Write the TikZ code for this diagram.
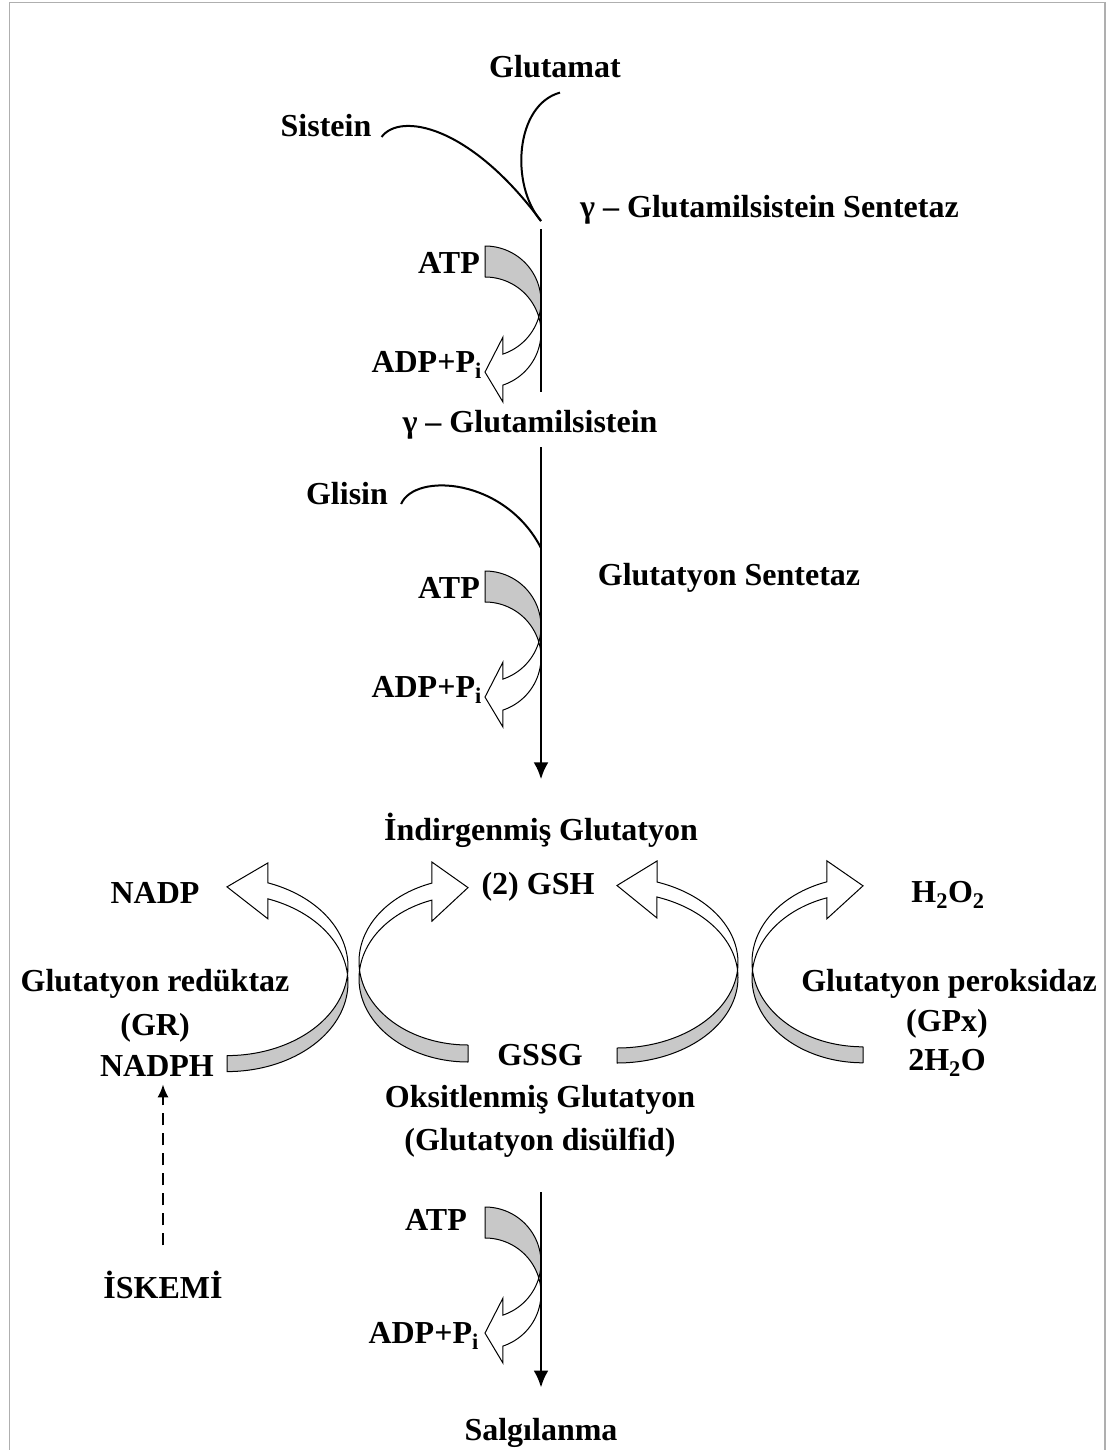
\documentclass[tikz,border=0pt]{standalone}
\usepackage{fontspec}
\setmainfont{Liberation Serif}
\usetikzlibrary{arrows.meta}
\tikzset{>=latex}
\definecolor{bandgray}{RGB}{200,200,200}
\definecolor{framegray}{RGB}{175,175,175}
\tikzstyle{lbl}=[font=\fontsize{32}{37}\selectfont\bfseries,inner sep=2pt,anchor=base]
\tikzstyle{mainline}=[line width=2.8pt]
\tikzstyle{thinline}=[line width=2pt]
\tikzstyle{backband}=[fill=bandgray,draw=black,line width=1pt,line join=round]
\tikzstyle{frontband}=[fill=white,draw=black,line width=1pt]
\tikzstyle{bigtip}=[-{Latex[length=17pt,width=15pt]}]
\tikzstyle{dasharrow}=[line width=2pt,dash pattern=on 12pt off 8pt,-{Latex[length=13pt,width=11pt]}]
% bent arrow: #1 x radius, #2 y radius, #3 band width, #4 end angle, #5 head overhang, #6 tip offset
\newcommand{\bentarrow}[6]{%
  \pgfmathsetmacro{\crossang}{asin(#3/(2*#2))}
  \filldraw[backband] plot[domain=-90:\crossang,samples=40] ({#1*cos(\x)},{#2*sin(\x)})
    -- plot[domain=-\crossang:-90,samples=40] ({#1*cos(\x)},{#3+#2*sin(\x)}) -- cycle;
  \filldraw[frontband] plot[domain=-\crossang:#4,samples=40] ({#1*cos(\x)},{#3+#2*sin(\x)})
    -- ++(0,#5) -- (0,{#2*sin(#4)+#3/2+#6})
    -- ({#1*cos(#4)},{#2*sin(#4)-#5})
    -- plot[domain=#4:\crossang,samples=40] ({#1*cos(\x)},{#2*sin(\x)}) -- cycle;
}

\begin{document}
\begin{tikzpicture}[x=1pt,y=-1pt]
    \useasboundingbox (0,0) rectangle (1107,1450);
    \draw[framegray,line width=1.5pt] (9.5,1450) -- (9.5,2.5) -- (1105,2.5) -- (1105,1450);

    % ATP -> ADP+Pi arrows
    \foreach \yy in {301.5,626.5,1262.5}{
      \begin{scope}[shift={(485,\yy)}]
        \bentarrow{56}{55.5}{31}{71.3}{17}{2.5}
      \end{scope}
    }
    % GSH / GSSG cycle
    \begin{scope}[shift={(227,982.6)},yscale=-1]
      \bentarrow{121}{89}{16}{70.2}{20}{4}
    \end{scope}
    \begin{scope}[shift={(468,978.7)},xscale=-1,yscale=-1]
      \bentarrow{109}{83.3}{17}{70.7}{21}{4}
    \end{scope}
    \begin{scope}[shift={(617,977.6)},yscale=-1]
      \bentarrow{121}{85.4}{15}{70.7}{21}{4}
    \end{scope}
    \begin{scope}[shift={(863,978)},xscale=-1,yscale=-1]
      \bentarrow{111}{84.8}{16}{71}{21}{4}
    \end{scope}

    \node[lbl] (glutamat) at (555,78) {Glutamat};
    \node[lbl] (sistein) at (326,137) {Sistein};
    \node[lbl,anchor=base west] (gcssent) at (578,218) {γ – Glutamilsistein Sentetaz};
    \node[lbl,anchor=base east] (atpa) at (482,273) {ATP};
    \node[lbl,anchor=base east] (adpa) at (484,372) {ADP+P\textsubscript{i}};
    \node[lbl] (gcs) at (530,432) {γ – Glutamilsistein};
    \node[lbl] (glisin) at (347,504) {Glisin};
    \node[lbl] (gssent) at (729,585) {Glutatyon Sentetaz};
    \node[lbl,anchor=base east] (atpb) at (482,598) {ATP};
    \node[lbl,anchor=base east] (adpb) at (484,697) {ADP+P\textsubscript{i}};
    \node[lbl] (indir) at (541,840) {İndirgenmiş Glutatyon};
    \node[lbl] (gsh) at (538,894) {(2) GSH};
    \node[lbl] (nadp) at (155,903) {NADP};
    \node[lbl] (hoo) at (948,902) {H\textsubscript{2}O\textsubscript{2}};
    \node[lbl] (gred) at (155,991) {Glutatyon redüktaz};
    \node[lbl] (gr) at (155,1035) {(GR)};
    \node[lbl] (nadph) at (157,1076) {NADPH};
    \node[lbl] (gssg) at (540,1065) {GSSG};
    \node[lbl] (oksit) at (540,1107) {Oksitlenmiş Glutatyon};
    \node[lbl] (disulf) at (540,1150) {(Glutatyon disülfid)};
    \node[lbl] (gpox) at (949,991) {Glutatyon peroksidaz};
    \node[lbl] (gpx) at (947,1031) {(GPx)};
    \node[lbl] (hho) at (947,1070) {2H\textsubscript{2}O};
    \node[lbl] (iskemi) at (163,1298) {İSKEMİ};
    \node[lbl,anchor=base east] (atpc) at (469,1230) {ATP};
    \node[lbl,anchor=base east] (adpc) at (481,1343) {ADP+P\textsubscript{i}};
    \node[lbl] (salg) at (541,1440) {Salgılanma};

    \coordinate (join1) at (541,221);
    \coordinate (join2) at (541,548);
    \draw[thinline] ([xshift=8pt]sistein.base east) .. controls (400,112) and (470,125) .. (join1);
    \draw[thinline] ([shift={(5,12)}]glutamat.south) .. controls (515,105) and (510,185) .. (join1);
    \draw[thinline] ([xshift=11pt]glisin.base east) .. controls (415,472) and (505,478) .. (join2);

    \draw[mainline,shorten <=8pt,shorten >=16pt] (join1) -- (join1 |- gcs.north);
    \draw[mainline,bigtip,shorten <=6pt,shorten >=31pt] (join1 |- gcs.south) -- (join1 |- indir.north);
    \draw[mainline,bigtip,shorten <=33pt,shorten >=28pt] (join1 |- disulf.south) -- (join1 |- salg.north);
    \draw[dasharrow,shorten <=23pt,shorten >=6pt] (iskemi.north) -- (iskemi |- nadph.south);
\end{tikzpicture}
\end{document}
